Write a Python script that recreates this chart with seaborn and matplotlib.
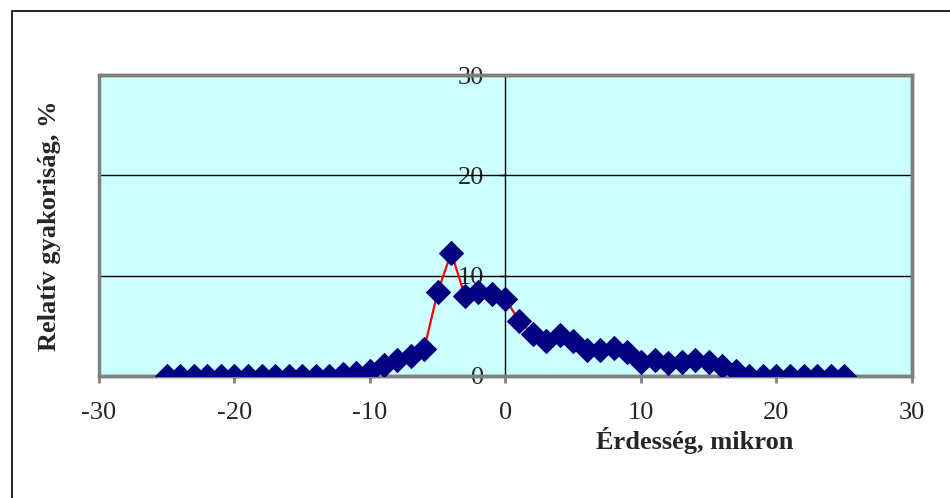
import pandas as pd
import seaborn as sns
import matplotlib.pyplot as plt
from matplotlib.patches import Rectangle

# roughness (micron) and relative frequency (%)
roughness = [-25, -24, -23, -22, -21, -20, -19, -18, -17, -16, -15, -14, -13,
             -12, -11, -10, -9, -8, -7, -6, -5, -4, -3, -2, -1, 0,
             1, 2, 3, 4, 5, 6, 7, 8, 9, 10, 11, 12, 13, 14, 15, 16, 17,
             18, 19, 20, 21, 22, 23, 24, 25]
frequency = [0, 0, 0, 0, 0, 0, 0, 0, 0, 0, 0, 0, 0,
             0.2, 0.3, 0.5, 1.1, 1.6, 2.0, 2.7, 8.4, 12.3, 8.0, 8.4, 8.2, 7.7,
             5.5, 4.2, 3.5, 4.1, 3.5, 2.6, 2.6, 2.8, 2.4, 1.4, 1.6, 1.3, 1.4, 1.6, 1.4, 1.0, 0.5,
             0, 0, 0, 0, 0, 0, 0, 0]
x_ticks = [-30, -20, -10, 0, 10, 20, 30]
y_ticks = [0, 10, 20, 30]

df = pd.DataFrame({'x': roughness, 'y': frequency})

sns.set_style('white')
plt.rcParams['font.family'] = ['Liberation Serif', 'DejaVu Serif']
plt.rcParams['axes.unicode_minus'] = False

fig = plt.figure(figsize=(9.5, 4.98), dpi=100)
ax = fig.add_axes([0.1042, 0.245, 0.8558, 0.604])
ax.set_facecolor('#CCFFFF')

sns.lineplot(data=df, x='x', y='y', ax=ax, color='red', linewidth=1.6,
             marker='D', markersize=12, markerfacecolor='#000080',
             markeredgecolor='#000080', zorder=5)

ax.set_xlim(-30, 30)
ax.set_ylim(0, 30)
ax.set_xticks(x_ticks)
ax.set_yticks(y_ticks)

# horizontal grid
for v in y_ticks[1:-1]:
    ax.axhline(v, color='black', linewidth=1, zorder=1)

# y axis sits at x = 0
ax.spines['left'].set_position(('data', 0))
ax.spines['left'].set_color('black')
ax.spines['left'].set_linewidth(1)
ax.spines['left'].set_zorder(2)
for s in ['top', 'right', 'bottom']:
    ax.spines[s].set_color('#808080')
    ax.spines[s].set_linewidth(2.5)
ax.add_patch(Rectangle((0, 0), 1, 1, transform=ax.transAxes, fill=False,
                       edgecolor='#808080', linewidth=2.5, clip_on=False, zorder=3))

ax.tick_params(axis='y', direction='out', length=4.5, width=1, color='black',
               labelsize=19, pad=11, left=True)
ax.tick_params(axis='x', direction='out', length=5, width=2, color='#808080',
               labelsize=19, pad=14, bottom=True)

ax.set_xlabel('Érdesség, mikron', fontsize=19, fontweight='bold', va='center')
ax.set_ylabel('Relatív gyakoriság, %', fontsize=19, fontweight='bold', va='center')
ax.xaxis.set_label_coords(0.733, -0.213)
ax.yaxis.set_label_coords(-0.0603, 0.5)

# outer chart frame
fig.patches.append(Rectangle((12 / 950, -0.1), 1.2, 1.1 - 11 / 498,
                             transform=fig.transFigure, fill=False,
                             edgecolor='black', linewidth=1.2))

fig.savefig('out.png', dpi=100)
plt.close('all')
